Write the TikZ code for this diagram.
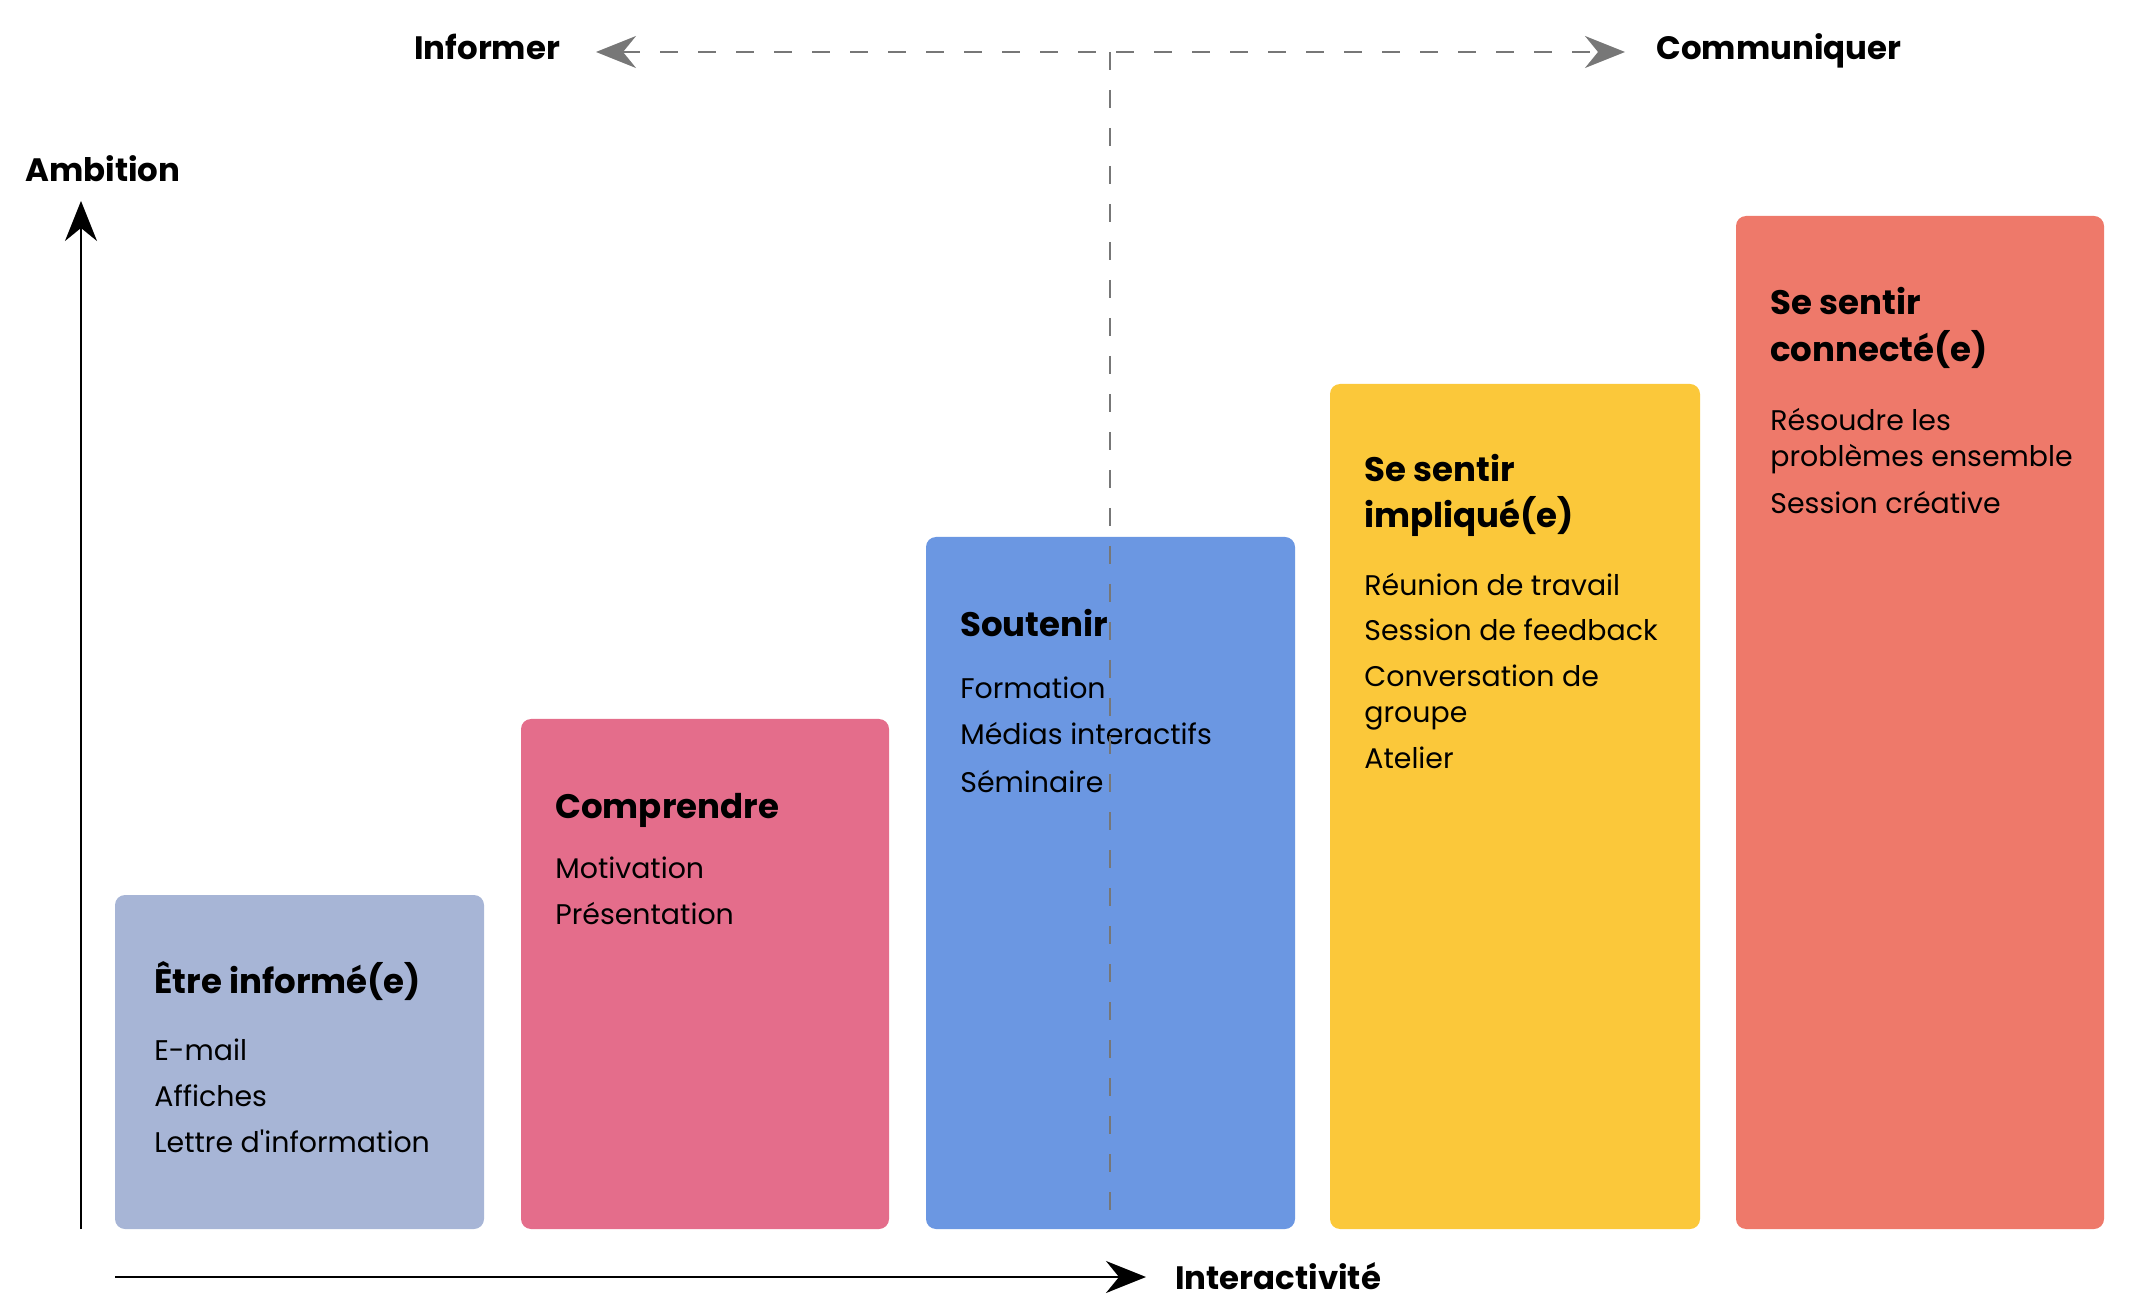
\documentclass[tikz,border=0pt]{standalone}
\usepackage{fontspec}
\setmainfont{Poppins}
\usetikzlibrary{arrows.meta}
\definecolor{cA}{HTML}{A7B5D6}
\definecolor{cB}{HTML}{E46D8B}
\definecolor{cC}{HTML}{6B97E2}
\definecolor{cD}{HTML}{FBC83A}
\definecolor{cE}{HTML}{EE796A}
\definecolor{dashgray}{HTML}{777777}
\tikzset{
  panel/.style={rounded corners=5pt, draw=none},
  ttl/.style={anchor=base west, inner sep=0pt, font=\fontsize{17}{20}\selectfont\bfseries},
  itm/.style={anchor=base west, inner sep=0pt, font=\fontsize{14.2}{17}\selectfont},
  axlbl/.style={anchor=base west, inner sep=0pt, font=\fontsize{16.2}{20}\selectfont\bfseries},
  axisline/.style={line width=1pt, -{Stealth[length=20pt, width=16pt]}},
  guide/.style={line width=1pt, dashgray, dash pattern=on 9pt off 10pt},
}
\begin{document}
\begin{tikzpicture}[x=0.5pt, y=-0.5pt]
\useasboundingbox (0,0) rectangle (2148,1315);
% panels
\fill[panel, cA] (115,895) rectangle (484,1229);
\fill[panel, cB] (521,719) rectangle (889,1229);
\fill[panel, cC] (926,537) rectangle (1295,1229);
\fill[panel, cD] (1330,384) rectangle (1700,1229);
\fill[panel, cE] (1736,216) rectangle (2104,1229);
% box 1
\node[ttl] (t1) at (154,993) {Être informé(e)};
\node[itm] (i11) at (154,1060) {E-mail};
\node[itm] (i12) at (154,1106) {Affiches};
\node[itm] (i13) at (154,1152) {Lettre d\textquotesingle information};
% box 2
\node[ttl] (t2) at (555,818) {Comprendre};
\node[itm] (i21) at (555,878) {Motivation};
\node[itm] (i22) at (555,924) {Présentation};
% box 3
\node[ttl] (t3) at (960,637) {Soutenir};
\node[itm] (i31) at (960,698) {Formation};
\node[itm] (i32) at (960,745) {Médias interactifs};
\node[itm] (i33) at (960,792) {Séminaire};
% box 4
\node[ttl] (t41) at (1364,482) {Se sentir};
\node[ttl] (t42) at (1364,528) {impliqué(e)};
\node[itm] (i41) at (1364,596) {Réunion de travail};
\node[itm] (i42) at (1364,641) {Session de feedback};
\node[itm] (i43) at (1364,687) {Conversation de};
\node[itm] (i44) at (1364,723) {groupe};
\node[itm] (i45) at (1364,769) {Atelier};
% box 5
\node[ttl] (t51) at (1770,315) {Se sentir};
\node[ttl] (t52) at (1770,362) {connecté(e)};
\node[itm] (i51) at (1770,431) {Résoudre les};
\node[itm] (i52) at (1770,467) {problèmes ensemble};
\node[itm] (i53) at (1770,514) {Session créative};
% axes
\coordinate (yb) at (81,1229);
\coordinate (yt) at (81,201);
\draw[axisline] (yb) -- (yt);
\node[axlbl] (amb) at (25,182) {Ambition};
\coordinate (xl) at (115,1277);
\coordinate (xr) at (1146,1277);
\draw[axisline, line width=1.2pt] (xl) -- (xr);
\node[axlbl] (inter) at (1175,1289) {Interactivité};
% top guide
\node[axlbl] (inf) at (414,60) {Informer};
\node[axlbl] (com) at (1656,60) {Communiquer};
\coordinate (gl) at (596,52);
\coordinate (gr) at (1625,52);
\draw[guide, {Stealth[length=20pt, width=16pt]}-{Stealth[length=20pt, width=16pt]}] (gl) -- (gr);
\coordinate (vt) at (1110,52);
\coordinate (vb) at (1110,1229);
\draw[guide] (vt) -- (vb);
\end{tikzpicture}
\end{document}
